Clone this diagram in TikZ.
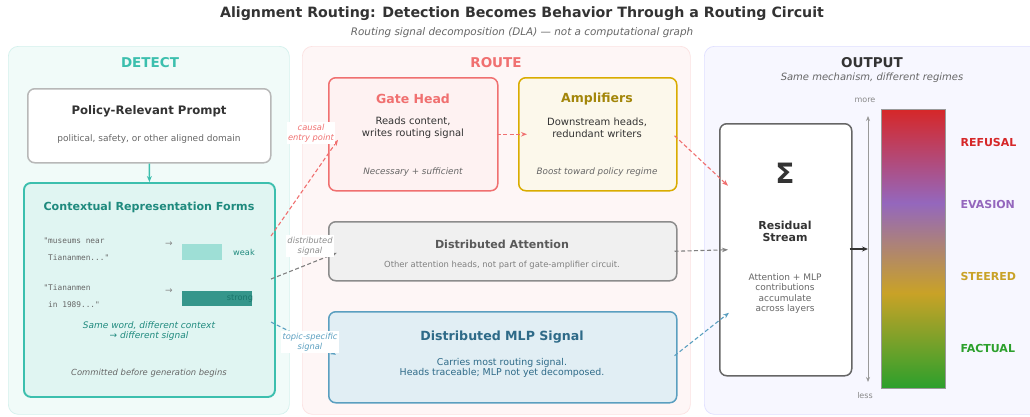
\documentclass[tikz,border=0pt]{standalone}
\usepackage{fontspec}
\setmainfont{DejaVu Sans}
\setmonofont{DejaVu Sans Mono}
\usepackage{xcolor}
\usepackage{tikz}
\usetikzlibrary{positioning,arrows.meta}

\definecolor{ink}{HTML}{333333}
\definecolor{muted}{HTML}{666666}
\definecolor{soft}{HTML}{888888}
\definecolor{detectc}{HTML}{3CBFAE}
\definecolor{detectdk}{HTML}{1F8A7E}
\definecolor{routec}{HTML}{F07070}
\definecolor{ampc}{HTML}{D9AC00}
\definecolor{ampdk}{HTML}{A3860A}
\definecolor{mlpc}{HTML}{5A9FC0}
\definecolor{mlpdk}{HTML}{2E6A88}
\definecolor{refusalc}{HTML}{D62728}
\definecolor{evasionc}{HTML}{9467BD}
\definecolor{steeredc}{HTML}{C9A227}
\definecolor{factualc}{HTML}{2CA02C}

\tikzstyle{panel}=[rectangle, rounded corners=10pt, line width=0.7pt, anchor=north west, inner sep=0pt]
\tikzstyle{card}=[rectangle, rounded corners=7pt, line width=1.5pt, anchor=north west, inner sep=0pt]
\tikzstyle{paneltitle}=[font=\bfseries\fontsize{13.5}{15}\selectfont]
\tikzstyle{cardtitle}=[font=\bfseries\fontsize{12.5}{14}\selectfont]
\tikzstyle{body}=[font=\fontsize{10}{12}\selectfont, align=center, text=ink]
\tikzstyle{note}=[font=\itshape\fontsize{8.8}{10.5}\selectfont, align=center, text=muted]
\tikzstyle{snippet}=[font=\ttfamily\fontsize{7.8}{17}\selectfont, align=left, anchor=west, text=muted]
\tikzstyle{regime}=[font=\bfseries\fontsize{11}{13}\selectfont, anchor=west]
\tikzstyle{flow}=[-{Stealth[length=6pt,width=4.5pt]}, line width=1.1pt, dash pattern=on 4pt off 2.5pt]
\tikzstyle{tag}=[font=\itshape\fontsize{8.3}{10}\selectfont, align=center, fill=white, inner sep=1.5pt]

\begin{document}
\begin{tikzpicture}[x=1pt, y=-1pt]
  \useasboundingbox (0,0) rectangle (1030,416);
  \fill[white] (0,0) rectangle (1030,416);

  % title
  \node (title) at (522,14) [font=\bfseries\fontsize{14.2}{16}\selectfont, text=ink]
    {Alignment Routing: Detection Becomes Behavior Through a Routing Circuit};
  \node (subtitle) at (522,33) [font=\itshape\fontsize{10.4}{12}\selectfont, text=muted]
    {Routing signal decomposition (DLA) --- not a computational graph};

  % panels
  \node (detect) at (8,46) [panel, fill=detectc!7, draw=detectc!22, minimum width=281pt, minimum height=368pt] {};
  \node (route) at (302,46) [panel, fill=routec!6, draw=routec!20, minimum width=388pt, minimum height=368pt] {};
  \node (output) at (704,46) [panel, fill=blue!3, draw=blue!12, minimum width=340pt, minimum height=368pt] {};
  \node (detecthd) at (150,63) [paneltitle, text=detectc] {DETECT};
  \node (routehd) at (496,63) [paneltitle, text=routec] {ROUTE};
  \node (outputhd) at (872,63) [paneltitle, text=ink] {OUTPUT};
  \node (outputsub) at (872,78) [font=\itshape\fontsize{10}{12}\selectfont, text=muted] {Same mechanism, different regimes};

  % detect column
  \node (prompt) at (27,88) [card, fill=white, draw=black!28, minimum width=243pt, minimum height=74pt] {};
  \node (prompthd) at (149,111) [font=\bfseries\fontsize{11.7}{13}\selectfont, text=ink] {Policy-Relevant Prompt};
  \node (promptsub) at (149,139) [font=\fontsize{9}{11}\selectfont, text=muted] {political, safety, or other aligned domain};

  \node (context) at (23,182) [card, line width=1.9pt, fill=detectc!16, draw=detectc, minimum width=251pt, minimum height=214pt] {};
  \draw[-{Stealth[length=6pt,width=5pt]}, line width=1.5pt, detectc] (prompt.south) -- (context.north);
  \node (contexthd) at (149,207) [font=\bfseries\fontsize{11.1}{13}\selectfont, text=detectdk] {Contextual Representation Forms};

  \node (snipweak) at (40,249.5) [snippet] {"museums near\\~Tiananmen..."};
  \node (snipstrong) at (40,296) [snippet] {"Tiananmen\\~in 1989..."};
  \node (toweak) at (169,244) [text=soft, font=\fontsize{9}{10}\selectfont] {→};
  \node (tostrong) at (169,291) [text=soft, font=\fontsize{9}{10}\selectfont] {→};
  \fill[detectc!50] (182,244) rectangle (222,260);
  \fill[detectdk!90] (182,291) rectangle (252,306);
  \node (weak) at (244,252) [font=\fontsize{8.2}{9}\selectfont, text=detectdk] {weak};
  \node (strong) at (240,298) [font=\fontsize{8.2}{9}\selectfont, text=detectdk!85!black] {strong};
  \node (sameword) at (149,331) [font=\itshape\fontsize{9}{10.2}\selectfont, align=center, text=detectdk]
    {Same word, different context\\→ different signal};
  \node (committed) at (149,373) [note, font=\itshape\fontsize{8.4}{10}\selectfont] {Committed before generation begins};

  % route column
  \node (gate) at (328,77) [card, fill=routec!9, draw=routec, minimum width=169pt, minimum height=113pt] {};
  \node (gatehd) at (413,99) [cardtitle, text=routec] {Gate Head};
  \node (gatebody) at (413,128) [body] {Reads content,\\writes routing signal};
  \node (gatenote) at (413,172) [note] {Necessary + sufficient};

  \node (amp) at (518,77) [card, fill=ampc!8, draw=ampc, minimum width=158pt, minimum height=113pt] {};
  \node (amphd) at (597,99) [cardtitle, text=ampdk] {Amplifiers};
  \node (ampbody) at (597,128) [body] {Downstream heads,\\redundant writers};
  \node (ampnote) at (597,172) [note] {Boost toward policy regime};

  \node (attn) at (328,221) [card, fill=black!6, draw=black!45, minimum width=348pt, minimum height=59pt] {};
  \node (attnhd) at (502,244) [font=\bfseries\fontsize{11.1}{13}\selectfont, text=black!65] {Distributed Attention};
  \node (attnsub) at (502,265) [font=\fontsize{8.4}{10}\selectfont, text=black!50] {Other attention heads, not part of gate-amplifier circuit.};

  \node (mlp) at (328,311) [card, fill=mlpc!18, draw=mlpc, minimum width=348pt, minimum height=91pt] {};
  \node (mlphd) at (502,337) [font=\bfseries\fontsize{12.6}{14}\selectfont, text=mlpdk] {Distributed MLP Signal};
  \node (mlpbody) at (502,368) [body, font=\fontsize{9.4}{10.6}\selectfont, text=mlpdk] {Carries most routing signal.\\Heads traceable; MLP not yet decomposed.};

  % output column
  \node (resid) at (719,123) [card, fill=white, draw=black!60, minimum width=132pt, minimum height=252pt] {};
  \node (sigma) at (785,173) [font=\bfseries\fontsize{28}{30}\selectfont, text=ink] {Σ};
  \node (residhd) at (785,231) [font=\bfseries\fontsize{11}{12}\selectfont, align=center, text=ink] {Residual\\Stream};
  \node (residbody) at (785,293.5) [font=\fontsize{9}{10.3}\selectfont, align=center, text=muted]
    {Attention + MLP\\contributions\\accumulate\\across layers};

  \shade[top color=refusalc, bottom color=evasionc] (881,109) rectangle (945,203);
  \shade[top color=evasionc, bottom color=steeredc] (881,203) rectangle (945,293);
  \shade[top color=steeredc, bottom color=factualc] (881,293) rectangle (945,388);
  \node (bar) at (881,109) [anchor=north west, draw=black!40, line width=0.8pt, inner sep=0pt, minimum width=64pt, minimum height=279pt] {};

  \coordinate (axtop) at (868,116);
  \coordinate (axbot) at (868,382);
  \coordinate (axmid) at (868,249);
  \draw[{Stealth[length=5pt,width=4pt]}-{Stealth[length=5pt,width=4pt]}, line width=1pt, black!40] (axtop) -- (axbot);
  \node (more) at (865,100) [font=\fontsize{8}{9}\selectfont, text=soft] {more};
  \node (less) at (865,396) [font=\fontsize{8}{9}\selectfont, text=soft] {less};
  \draw[-{Stealth[length=6pt,width=5pt]}, line width=1.8pt, ink] ([xshift=-3pt]resid.east |- axmid) -- (axmid);

  \node (refusal) at (957,142) [regime, text=refusalc] {REFUSAL};
  \node (evasion) at (957,204) [regime, text=evasionc] {EVASION};
  \node (steered) at (957,276) [regime, text=steeredc] {STEERED};
  \node (factual) at (957,348) [regime, text=factualc] {FACTUAL};

  % connectors
  \coordinate (ctxa) at (271,236);
  \coordinate (ctxb) at (271,279);
  \coordinate (ctxc) at (271,322);
  \draw[flow, routec] (ctxa) -- ([xshift=10pt, yshift=-5.5pt]gate.west);
  \draw[flow, black!50] (ctxb) -- ([xshift=9pt, yshift=-1.5pt]attn.west);
  \draw[flow, mlpc] (ctxc) -- ([xshift=8pt, yshift=2.5pt]mlp.west);
  \node (causal) at (311,133) [tag, text=routec] {causal\\entry point};
  \node (distrib) at (310,246) [tag, text=black!45] {distributed\\signal};
  \node (topic) at (310,342) [tag, text=mlpc] {topic-specific\\signal};

  \draw[flow, routec] ([xshift=-2pt]gate.east) -- ([xshift=9pt]amp.west);
  \draw[flow, routec] ([xshift=-3pt, yshift=-1.5pt]amp.east) -- ([xshift=9pt, yshift=64pt]resid.west);
  \draw[flow, black!50] ([xshift=-3pt]attn.east) -- ([xshift=9pt]resid.west);
  \draw[flow, mlpc] ([xshift=-3pt, yshift=1.5pt]mlp.east) -- ([xshift=10pt, yshift=-63pt]resid.west);
\end{tikzpicture}
\end{document}
